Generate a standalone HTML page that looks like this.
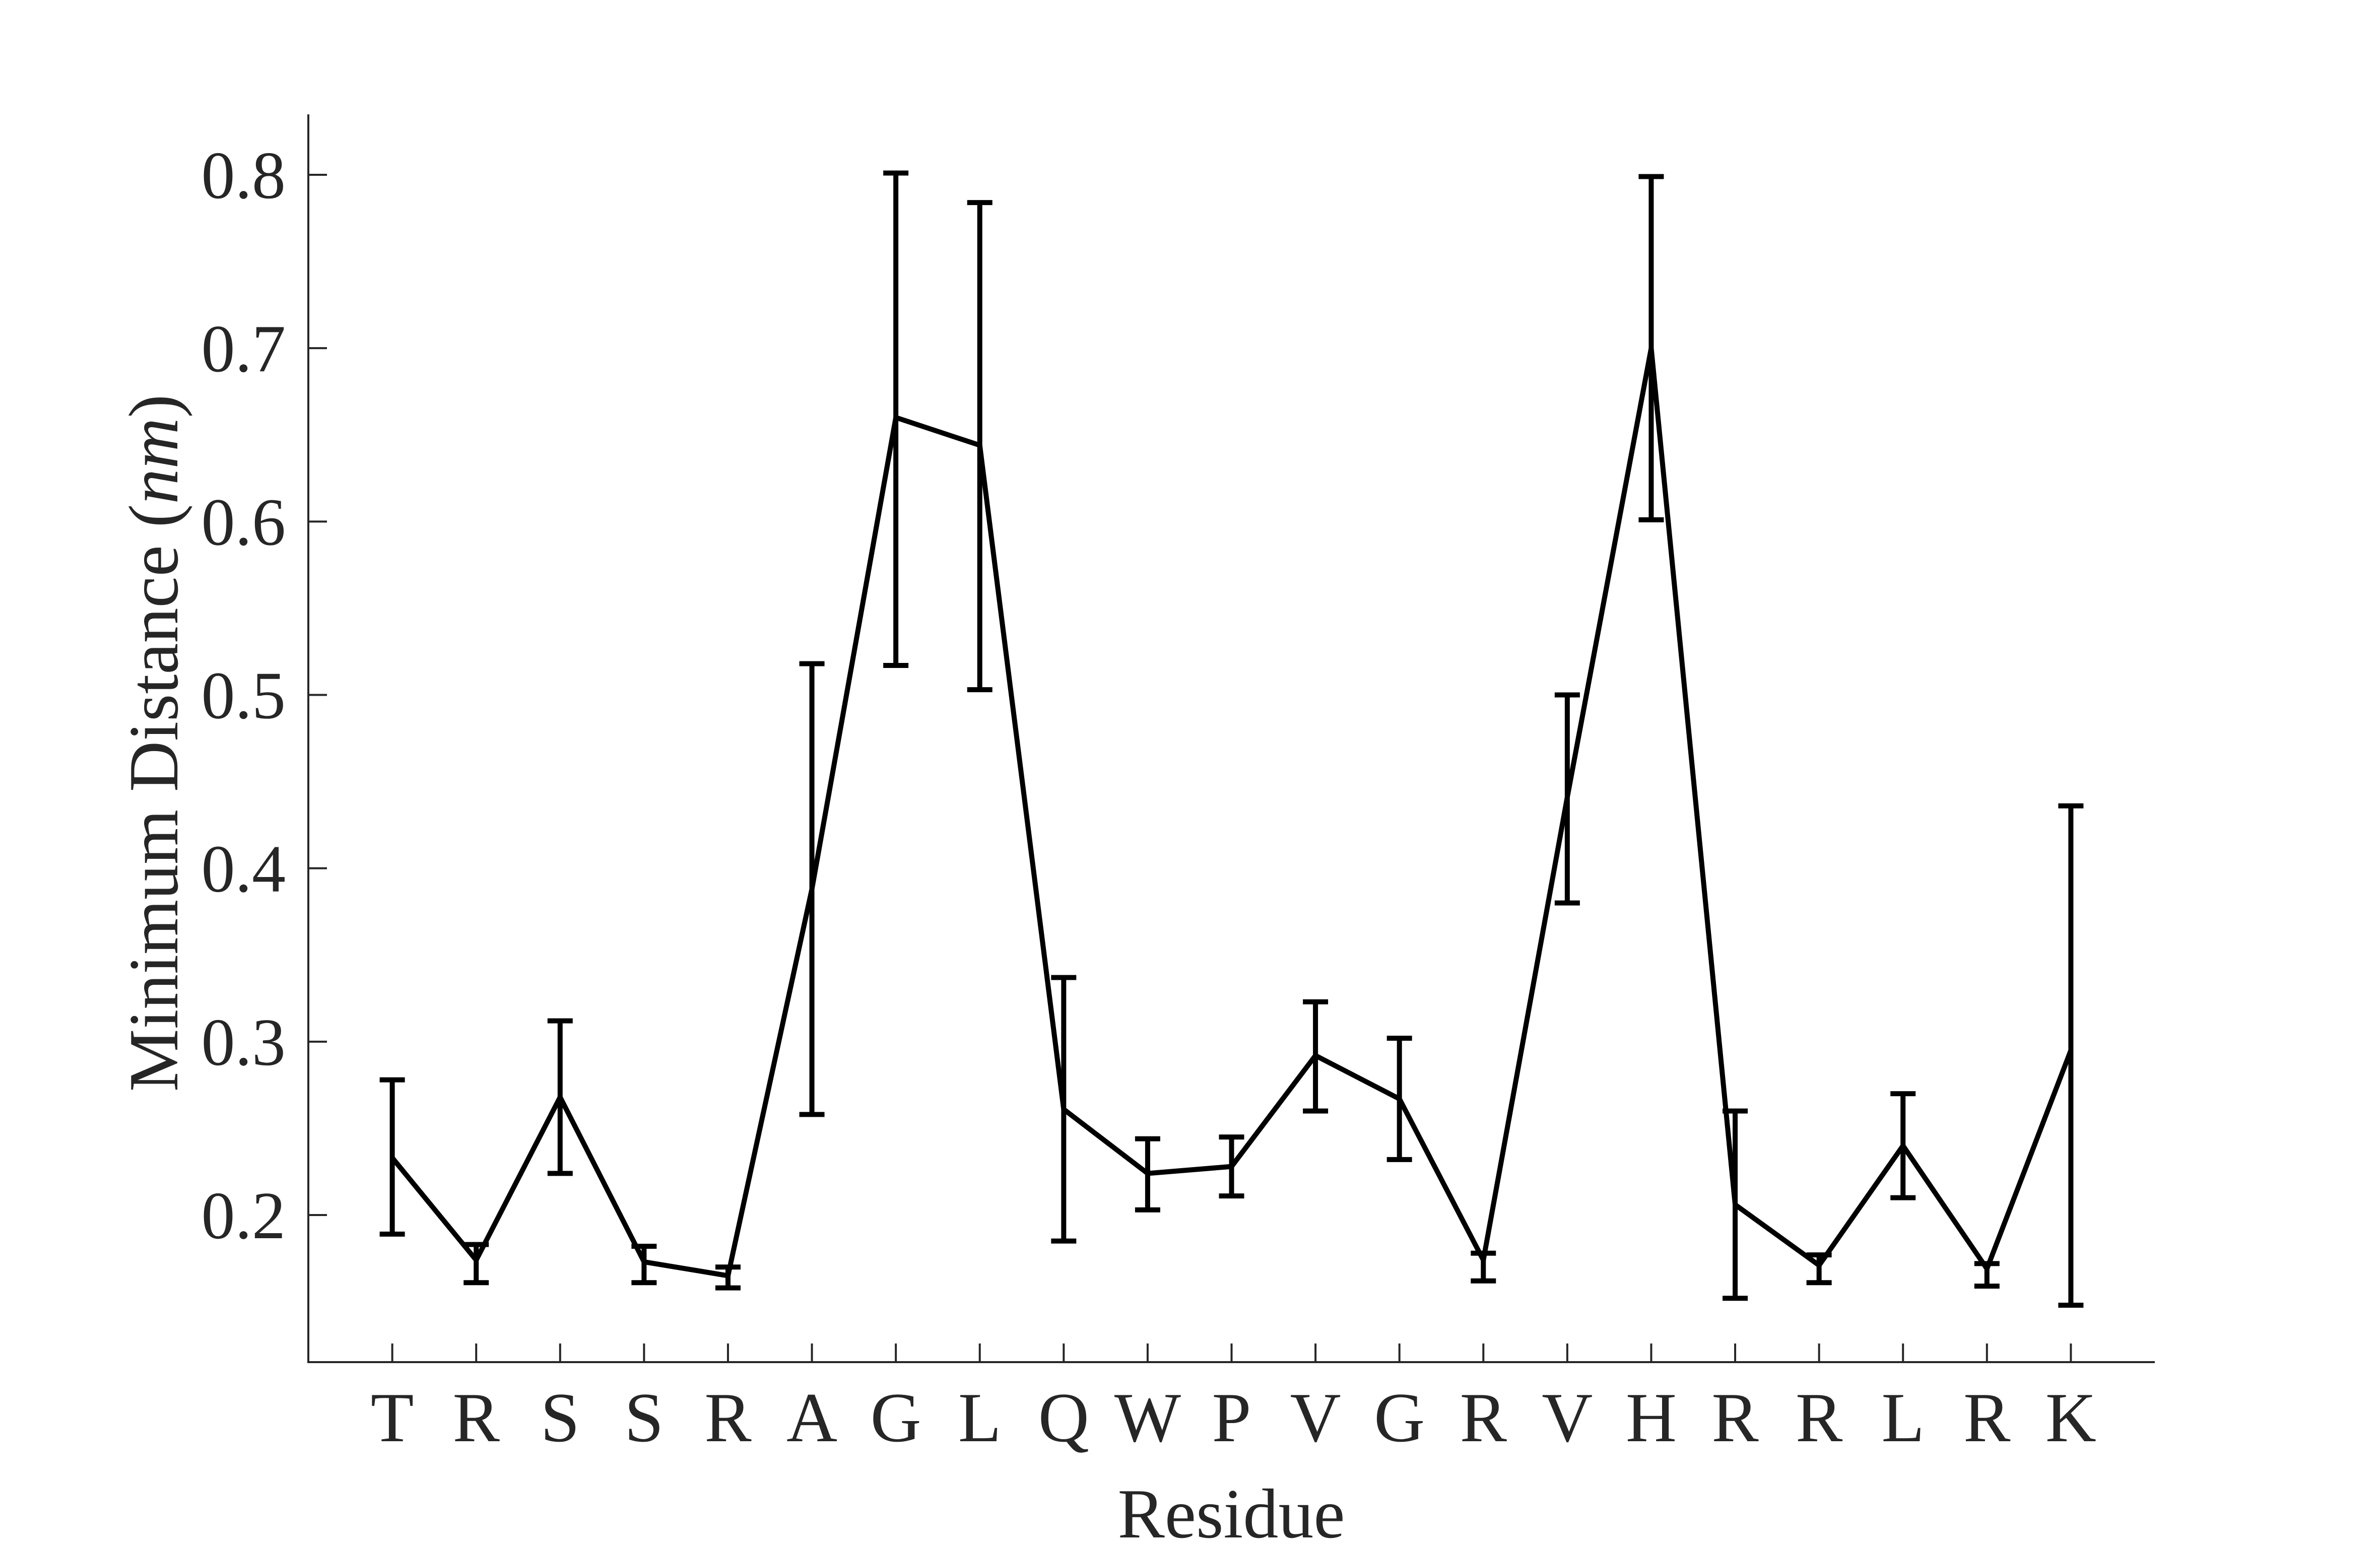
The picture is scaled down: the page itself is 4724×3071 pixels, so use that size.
<!DOCTYPE html>
<html><head><meta charset="utf-8"><style>
html,body{margin:0;padding:0;background:#fff;}
svg{display:block;}
text{font-family:"Liberation Serif",serif;fill:#262626;}
</style></head><body>
<svg id="chart" width="4724" height="3071" viewBox="0 0 4724 3071" xmlns="http://www.w3.org/2000/svg">
<rect width="4724" height="3071" fill="#fff"/>
<g id="axes"></g>
<g id="marks"></g>
<text x="2444" y="3052" font-size="140" text-anchor="middle">Residue</text>
<text transform="translate(352,1475) rotate(-90)" font-size="140" text-anchor="middle">Minimum Distance (<tspan font-style="italic">nm</tspan>)</text>
</svg>
<script>
const categories = ["T","R","S","S","R","A","G","L","Q","W","P","V","G","R","V","H","R","R","L","R","K"];
const means = [0.233,0.174,0.268,0.173,0.165,0.388,0.660,0.644,0.261,0.224,0.228,0.292,0.267,0.174,0.441,0.700,0.206,0.171,0.240,0.169,0.295];
const upper = [0.278,0.183,0.312,0.182,0.170,0.518,0.801,0.784,0.337,0.244,0.245,0.323,0.302,0.178,0.500,0.799,0.260,0.177,0.270,0.172,0.436];
const lower = [0.189,0.161,0.224,0.161,0.158,0.258,0.517,0.503,0.185,0.203,0.211,0.260,0.232,0.162,0.380,0.601,0.152,0.161,0.210,0.159,0.148];
const yTicks = [0.2,0.3,0.4,0.5,0.6,0.7,0.8];
const yTickLabels = ["0.2","0.3","0.4","0.5","0.6","0.7","0.8"];

const NS = "http://www.w3.org/2000/svg";
const L = 612, R = 4277, T = 227, B = 2704;
const xMax = categories.length + 1;
function xs(i){ return L + (i + 1) * (R - L) / xMax; }
function ys(v){ return 347 + (0.8 - v) * 34417 / 10; }
function mk(tag, attrs, parent){ const e = document.createElementNS(NS, tag); for (const k in attrs) e.setAttribute(k, attrs[k]); parent.appendChild(e); return e; }

const axes = document.getElementById('axes');
const marks = document.getElementById('marks');
const stroke = "#262626";

let ax = mk('path', {d:`M${L},${T} L${L},${B} L${R},${B}`, fill:'none', stroke:stroke, 'stroke-width':4}, axes);



yTicks.forEach((v, i) => {
  const y = ys(v);
  const t = mk('line', {x1:L, x2:L+37, y1:y, y2:y, stroke:stroke, 'stroke-width':4}, axes);
  
  
  const lb = mk('text', {x:567, y:y+46, 'font-size':134, 'text-anchor':'end'}, axes);
  lb.textContent = yTickLabels[i];
  
  
});

categories.forEach((c, i) => {
  const x = xs(i);
  const t = mk('line', {x1:x, x2:x, y1:B, y2:B-37, stroke:stroke, 'stroke-width':4}, axes);
  
  
  const lb = mk('text', {x:x, y:2861, 'font-size':140, 'text-anchor':'middle'}, axes);
  lb.textContent = c;
  
  
});

categories.forEach((c, i) => {
  const x = xs(i), y1 = ys(upper[i]), y2 = ys(lower[i]);
  const g = mk('path', {d:`M${x},${y1} L${x},${y2} M${x-25},${y1} L${x+25},${y1} M${x-25},${y2} L${x+25},${y2}`, fill:'none', stroke:'#000', 'stroke-width':10}, marks);
  
  
});

const pts = means.map((v, i) => `${xs(i)},${ys(v)}`).join(' ');
const line = mk('polyline', {points:pts, fill:'none', stroke:'#000', 'stroke-width':10, 'stroke-linejoin':'miter'}, marks);


</script>
</body></html>
